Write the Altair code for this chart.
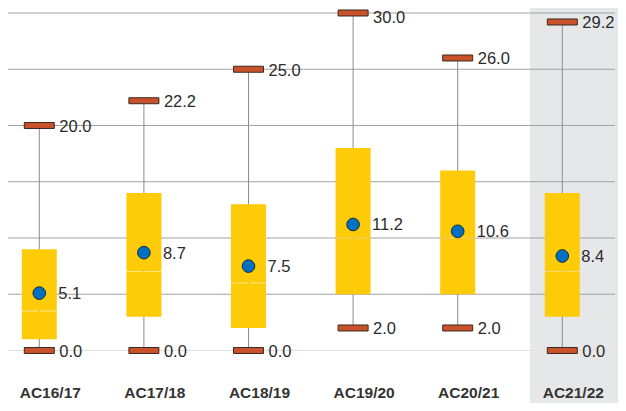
import altair as alt
import pandas as pd

# ---- data ----
categories = ["AC16/17", "AC17/18", "AC18/19", "AC19/20", "AC20/21", "AC21/22"]
mins = [0.0, 0.0, 0.0, 2.0, 2.0, 0.0]
q1s = [1.0, 3.0, 2.0, 5.0, 5.0, 3.0]
medians = [3.5, 7.0, 6.0, 10.0, 10.0, 7.0]
q3s = [9.0, 14.0, 13.0, 18.0, 16.0, 14.0]
maxs = [20.0, 22.2, 25.0, 30.0, 26.0, 29.2]
means = [5.1, 8.7, 7.5, 11.2, 10.6, 8.4]
grid_values = [0, 5, 10, 15, 20, 25, 30]
highlight = "AC21/22"

W, H = 610, 395

df = pd.DataFrame({
    "cat": categories, "min": mins, "q1": q1s, "median": medians,
    "q3": q3s, "max": maxs, "mean": means,
})
caps = pd.DataFrame({
    "cat": categories + categories,
    "value": mins + maxs,
})
grid = pd.DataFrame({"g": grid_values[1:]})
zero = pd.DataFrame({"g": grid_values[:1]})
band = pd.DataFrame({"cat": [highlight]})

xscale = alt.Scale(type="point", range=[31.3, 554.3], padding=0)
yscale = alt.Scale(domain=[-4.667, 30.444], nice=False, zero=False)
X = alt.X("cat:N", scale=xscale, axis=None, sort=categories)

def Y(field):
    return alt.Y(field, type="quantitative", scale=yscale, axis=None)

num_font = "Liberation Sans Narrow, Arial Narrow, Liberation Sans"
BOX = "#FECB08"

band_layer = alt.Chart(band).mark_rect(color="#E6E7E9").encode(
    x=alt.value(522), x2=alt.value(W), y=alt.value(0), y2=alt.value(H)
)
grid_layer = alt.Chart(grid).mark_rule(color="#A3A3A3", strokeWidth=1).encode(
    y=Y("g"), x=alt.value(0), x2=alt.value(607)
)
zero_layer = alt.Chart(zero).mark_rule(color="#E2E2E2", strokeWidth=1).encode(
    y=Y("g"), x=alt.value(0), x2=alt.value(607)
)
whisker = alt.Chart(df).mark_rule(color="#8C8C8C", strokeWidth=1).encode(
    x=X, y=Y("min"), y2="max"
)
box_low = alt.Chart(df).mark_bar(width=35, color=BOX, y2Offset=0.25).encode(
    x=X, y=Y("q1"), y2="median"
)
box_high = alt.Chart(df).mark_bar(width=35, color=BOX, yOffset=-0.25).encode(
    x=X, y=Y("median"), y2="q3"
)
cap_layer = alt.Chart(caps).mark_tick(
    orient="horizontal", size=30, thickness=6, fill="#C9522A",
    stroke="#3B2A22", strokeWidth=1, opacity=1, filled=True
).encode(x=X, y=Y("value"))
min_text = alt.Chart(df).mark_text(
    align="left", baseline="middle", dx=20, dy=1.5, fontSize=16.5, font=num_font,
    color="#2B2B2B"
).encode(x=X, y=Y("min"), text=alt.Text("min:Q", format=".1f"))
max_text = alt.Chart(df).transform_filter("datum.max < 29.9").mark_text(
    align="left", baseline="middle", dx=20, dy=1.5, fontSize=16.5, font=num_font,
    color="#2B2B2B"
).encode(x=X, y=Y("max"), text=alt.Text("max:Q", format=".1f"))
top_text = alt.Chart(df).transform_filter("datum.max >= 29.9").mark_text(
    align="left", baseline="middle", dx=20, dy=5, fontSize=16.5, font=num_font,
    color="#2B2B2B"
).encode(x=X, y=Y("max"), text=alt.Text("max:Q", format=".1f"))
mean_layer = alt.Chart(df).mark_circle(
    size=160, color="#0070C0", stroke="#1C2B3A", strokeWidth=1, opacity=1
).encode(x=X, y=Y("mean"))
mean_text = alt.Chart(df).mark_text(
    align="left", baseline="middle", dx=19, dy=1, fontSize=16.5, font=num_font,
    color="#2B2B2B"
).encode(x=X, y=Y("mean"), text=alt.Text("mean:Q", format=".1f"))
cat_text = alt.Chart(df).mark_text(
    align="center", baseline="alphabetic", dx=11, fontSize=15.5,
    font="Liberation Sans", fontWeight="bold", color="#333333"
).encode(x=X, y=alt.value(390), text="cat:N")

chart = alt.layer(
    band_layer, grid_layer, zero_layer, whisker, box_low, box_high,
    cap_layer, min_text, max_text, top_text, mean_layer, mean_text, cat_text
).properties(
    width=W, height=H, padding=0, autosize=alt.AutoSizeParams(type="none")
).configure_view(stroke=None)

chart.save("out.html", embed_options={"renderer": "svg", "actions": False})
